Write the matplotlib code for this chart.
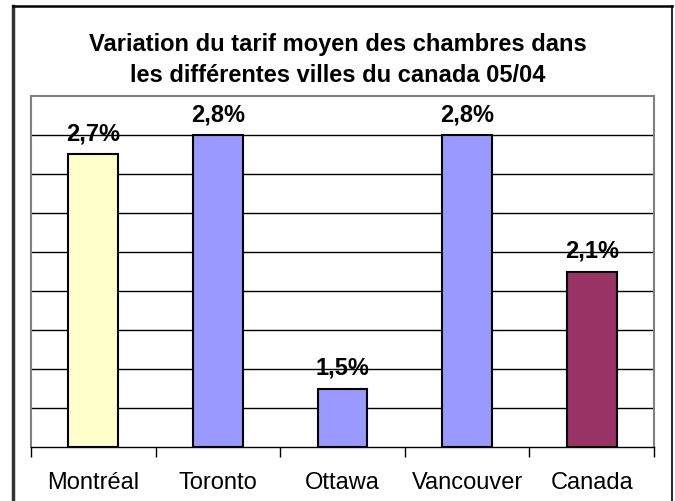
import matplotlib
matplotlib.use("Agg")
import matplotlib.pyplot as plt
from matplotlib.lines import Line2D

villes = ["Montréal", "Toronto", "Ottawa", "Vancouver", "Canada"]
variation = [2.7, 2.8, 1.5, 2.8, 2.1]
etiquettes = ["2,7%", "2,8%", "1,5%", "2,8%", "2,1%"]
couleurs = ["#FFFFCC", "#9999FF", "#9999FF", "#9999FF", "#993366"]

plt.rcParams["font.family"] = ["Liberation Sans", "DejaVu Sans"]

fig = plt.figure(figsize=(6.75, 5.02), dpi=100)
ax = fig.add_axes([31/675, 1-448/502, 623/675, 351/502])

x = range(len(villes))
ax.bar(x, [v - 1.2 for v in variation], bottom=1.2, width=0.4,
       color=couleurs, edgecolor="black", linewidth=1.5, zorder=3)

for i, v in enumerate(variation):
    ax.text(i, v + 0.05, etiquettes[i], ha="center", va="bottom",
            fontsize=17, fontweight="bold")

ax.set_xlim(-0.5, len(villes) - 0.5)
ax.set_ylim(1.2, 3.0)
ax.set_yticks([1.4, 1.6, 1.8, 2.0, 2.2, 2.4, 2.6, 2.8])
ax.yaxis.grid(True, color="black", linewidth=1)
ax.set_axisbelow(True)
ax.tick_params(axis="y", left=False, labelleft=False)

ax.set_xticks(list(x))
ax.set_xticklabels(villes, fontsize=17)
ax.tick_params(axis="x", length=0, pad=17)
ax.set_xticks([i - 0.5 for i in range(len(villes) + 1)], minor=True)
ax.tick_params(axis="x", which="minor", length=7, width=1, color="black")

for s in ["left", "top", "right"]:
    ax.spines[s].set_color("#808080")
    ax.spines[s].set_linewidth(1.5)
ax.spines["bottom"].set_color("black")
ax.spines["bottom"].set_linewidth(1)

fig.text(0.5, 1-45/502, "Variation du tarif moyen des chambres dans",
         ha="center", va="center", fontsize=17, fontweight="bold")
fig.text(0.5, 1-75/502, "les différentes villes du canada 05/04",
         ha="center", va="center", fontsize=17, fontweight="bold")

# cadre extérieur (ouvert en bas, comme sur la capture)
fx0, fx1 = 12.5/675, 672/675
fy0, fy1 = 1-7/502, -0.01
fig.lines.append(Line2D([fx0, fx0], [fy1, fy0], transform=fig.transFigure,
                        color="#333333", linewidth=2.5))
fig.lines.append(Line2D([fx0, fx1], [fy0, fy0], transform=fig.transFigure,
                        color="black", linewidth=1.8))
fig.lines.append(Line2D([fx1, fx1], [fy0, fy1], transform=fig.transFigure,
                        color="black", linewidth=1.2))

fig.savefig("out.png", dpi=100)
